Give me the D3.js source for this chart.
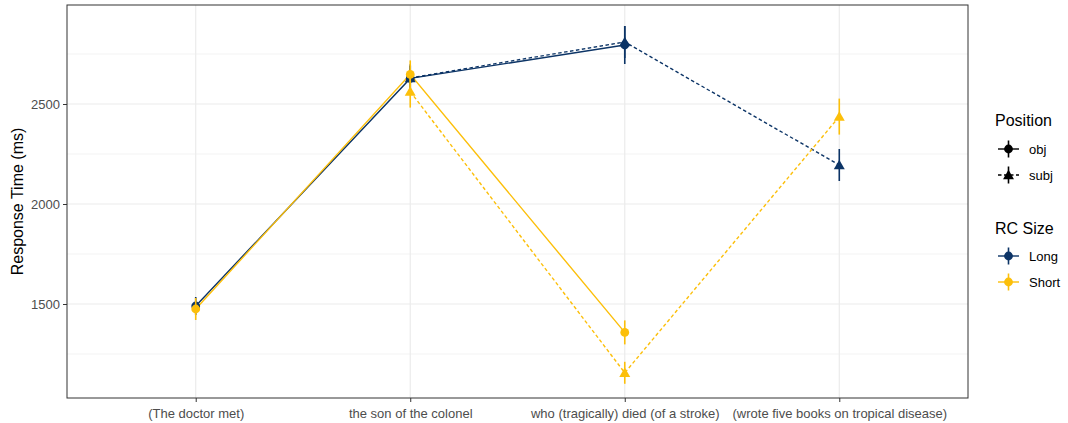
<!DOCTYPE html>
<html><head><meta charset="utf-8">
<script src="https://cdn.jsdelivr.net/npm/d3@7"></script>
<style>body{margin:0;background:#fff;font-family:"Liberation Sans",Arial,sans-serif}</style>
</head><body><svg id="c" width="1068" height="423"></svg>
<script>
const categories = ["(The doctor met)", "the son of the colonel", "who (tragically) died (of a stroke)", "(wrote five books on tropical disease)"];
const yTicks = [1500, 2000, 2500];
const yMinor = [1250, 1750, 2250, 2750];
// series: [category index, mean, se]
const longObj   = [[0, 1490, 45], [1, 2628, 70], [2, 2795, 95]];
const longSubj  = [[1, 2630, 60], [2, 2810, 80], [3, 2195, 80]];
const shortObj  = [[0, 1475, 55], [1, 2648, 70], [2, 1358, 60]];
const shortSubj = [[1, 2562, 80], [2, 1156, 55], [3, 2437, 90]];
const sizeNames = ["Long", "Short"];
const posNames = ["obj", "subj"];
const colors = {Long: "#0c3466", Short: "#fcbf0a"};

const series = [
  {size: "Long", pos: "obj", data: longObj},
  {size: "Long", pos: "subj", data: longSubj},
  {size: "Short", pos: "obj", data: shortObj},
  {size: "Short", pos: "subj", data: shortSubj}
];

const FONT = "Liberation Sans, Arial, sans-serif";
const svg = d3.select("#c");
const L = 67, R = 968, T = 5, B = 398;
const x = d3.scalePoint().domain(d3.range(categories.length)).range([L, R]).padding(0.6);
const y = d3.scaleLinear().domain([1030, 2995]).range([B, T]);

svg.append("rect").attr("x", L).attr("y", T).attr("width", R - L).attr("height", B - T).attr("fill", "#fff");
const g = svg.append("g");
yMinor.forEach(v => g.append("line").attr("x1", L).attr("x2", R).attr("y1", y(v)).attr("y2", y(v)).attr("stroke", "#ebebeb").attr("stroke-width", 0.6));
yTicks.forEach(v => g.append("line").attr("x1", L).attr("x2", R).attr("y1", y(v)).attr("y2", y(v)).attr("stroke", "#ebebeb").attr("stroke-width", 1.2));
categories.forEach((c, i) => g.append("line").attr("x1", x(i)).attr("x2", x(i)).attr("y1", T).attr("y2", B).attr("stroke", "#ebebeb").attr("stroke-width", 1.2));

const line = d3.line().x(d => x(d[0])).y(d => y(d[1]));
series.forEach(s => {
  g.append("path").attr("d", line(s.data)).attr("fill", "none")
    .attr("stroke", colors[s.size]).attr("stroke-width", 1.4)
    .attr("stroke-dasharray", s.pos === "subj" ? "3.5,2.5" : null);
});
const tri = d3.symbol().type(d3.symbolTriangle).size(52);
series.forEach(s => {
  s.data.forEach(d => {
    g.append("line").attr("x1", x(d[0])).attr("x2", x(d[0])).attr("y1", y(d[1] - d[2])).attr("y2", y(d[1] + d[2]))
      .attr("stroke", colors[s.size]).attr("stroke-width", 1.6);
    if (s.pos === "obj") {
      g.append("circle").attr("cx", x(d[0])).attr("cy", y(d[1])).attr("r", 4.4).attr("fill", colors[s.size]);
    } else {
      g.append("path").attr("d", tri()).attr("transform", `translate(${x(d[0])},${y(d[1]) + 1})`).attr("fill", colors[s.size]);
    }
  });
});

svg.append("rect").attr("x", L).attr("y", T).attr("width", R - L).attr("height", B - T).attr("fill", "none").attr("stroke", "#333").attr("stroke-width", 1);

// axes
const yAxis = svg.append("g").attr("transform", `translate(${L},0)`)
  .call(d3.axisLeft(y).tickValues(yTicks).tickFormat(d3.format("d")).tickSize(4).tickPadding(3));
yAxis.select(".domain").remove();
yAxis.selectAll("line").attr("stroke", "#333");
yAxis.selectAll("text").attr("fill", "#4d4d4d").style("font-size", "13px").style("font-family", FONT);

const xAxis = svg.append("g").attr("transform", `translate(0,${B})`)
  .call(d3.axisBottom(x).tickSize(4).tickFormat(i => categories[i]));
xAxis.select(".domain").remove();
xAxis.selectAll("line").attr("stroke", "#333");
xAxis.selectAll("text").attr("fill", "#4d4d4d").attr("y", 20).attr("dy", null)
  .style("font-size", "13px").style("font-family", FONT);

svg.append("text").attr("transform", `translate(23,${(T + B) / 2}) rotate(-90)`).attr("text-anchor", "middle")
  .style("font-size", "16px").style("font-family", FONT).attr("fill", "#000").text("Response Time (ms)");

// legends
const lg = svg.append("g").style("font-family", FONT);
const kx = 1008.5;
lg.append("text").attr("x", 995).attr("y", 126).style("font-size", "16px").attr("fill", "#000").text("Position");
posNames.forEach((p, i) => {
  const cy = 149 + i * 26;
  lg.append("line").attr("x1", kx - 10.5).attr("x2", kx + 10.5).attr("y1", cy).attr("y2", cy).attr("stroke", "#000").attr("stroke-width", 1.4)
    .attr("stroke-dasharray", p === "subj" ? "3.5,2.5" : null);
  lg.append("line").attr("x1", kx).attr("x2", kx).attr("y1", cy - 8.5).attr("y2", cy + 8.5).attr("stroke", "#000").attr("stroke-width", 1.6);
  if (p === "obj") lg.append("circle").attr("cx", kx).attr("cy", cy).attr("r", 4.4).attr("fill", "#000");
  else lg.append("path").attr("d", tri()).attr("transform", `translate(${kx},${cy + 1})`).attr("fill", "#000");
  lg.append("text").attr("x", 1029).attr("y", cy + 4.5).style("font-size", "13px").attr("fill", "#000").text(p);
});
lg.append("text").attr("x", 995).attr("y", 234).style("font-size", "16px").attr("fill", "#000").text("RC Size");
sizeNames.forEach((s, i) => {
  const cy = 256 + i * 26;
  lg.append("line").attr("x1", kx - 10.5).attr("x2", kx + 10.5).attr("y1", cy).attr("y2", cy).attr("stroke", colors[s]).attr("stroke-width", 1.4);
  lg.append("line").attr("x1", kx).attr("x2", kx).attr("y1", cy - 8.5).attr("y2", cy + 8.5).attr("stroke", colors[s]).attr("stroke-width", 1.6);
  lg.append("circle").attr("cx", kx).attr("cy", cy).attr("r", 4.4).attr("fill", colors[s]);
  lg.append("text").attr("x", 1029).attr("y", cy + 4.5).style("font-size", "13px").attr("fill", "#000").text(s);
});
</script></body></html>
